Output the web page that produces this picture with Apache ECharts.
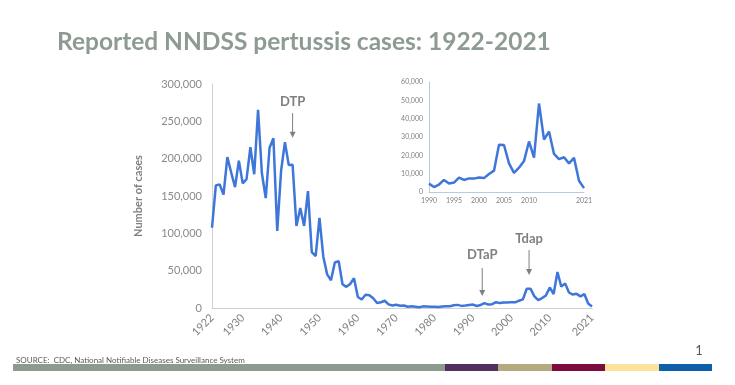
<!DOCTYPE html>
<html>
<head>
<meta charset="utf-8">
<script src="https://cdn.jsdelivr.net/npm/echarts@6/dist/echarts.min.js"></script>
<style>html,body{margin:0;padding:0;background:#fff;}#c{width:735px;height:385px;}</style>
</head>
<body>
<div id="c"></div>
<script>
const years = [];
for (let y = 1922; y <= 2021; y++) years.push(y);
const cases = [107473,164191,165418,152003,202210,181411,161799,197371,166914,172559,
215343,179135,265269,180518,147237,214652,227319,103188,183866,222202,
191383,191890,109873,133792,109860,156517,74715,69479,120718,68687,
45030,37129,60886,62786,31732,28295,32148,40005,14809,11468,
17749,17135,13005,6799,7717,9718,4810,3285,4249,3036,
3287,1759,2402,1738,1010,2177,2063,1623,1730,1248,
1895,2463,2276,3589,4195,2823,3450,4157,4570,2719,
4083,6586,4617,5137,7796,6564,7405,7298,7867,7580,
9771,11647,25827,25616,15632,10454,13278,16858,27550,18719,
48277,28639,32971,20762,17972,18975,15609,18617,6124,2116];
const mainTicks = [1922,1930,1940,1950,1960,1970,1980,1990,2000,2010,2021];
const insetTicks = [1990,1995,2000,2005,2010,2021];
const insetStart = 1990;
const annotations = [
  {label:'DTP', year:1943, textV:276000, topV:261000, tipV:228000},
  {label:'DTaP', year:1992.4, textV:71000, topV:53600, tipV:16000},
  {label:'Tdap', year:2004.6, textV:92400, topV:77700, tipV:44200}
];
const mainData = years.map((y,i)=>[y,cases[i]]);
const insetData = mainData.filter(d=>d[0]>=insetStart);

const gray = '#808080';
const lineColor = '#3f76d9';
const chart = echarts.init(document.getElementById('c'));
const fmtNum = v => v.toLocaleString('en-US');
chart.setOption({
  animation:false,
  title:{text:'Reported NNDSS pertussis cases: 1922-2021', left:52, top:25,
    textStyle:{fontFamily:'Lato', fontWeight:'bold', fontSize:24.5, color:'#8d9b92'}},
  grid:[
    {left:212, right:143, top:84, bottom:77},
    {left:429, right:151, top:82, bottom:193}
  ],
  xAxis:[
    {gridIndex:0, type:'value', min:1922, max:2021,
      axisLine:{lineStyle:{color:'#d0d0d0'}}, axisTick:{show:false}, splitLine:{show:false},
      axisLabel:{customValues:mainTicks, formatter:v=>String(v), rotate:45, color:gray, fontSize:11, fontFamily:'Lato', margin:8}},
    {gridIndex:1, type:'value', min:1990, max:2021,
      axisLine:{lineStyle:{color:'#b9c9e6'}}, axisTick:{show:false}, splitLine:{show:false},
      axisLabel:{customValues:insetTicks, formatter:v=>String(v), color:gray, fontSize:7, fontFamily:'Lato', margin:5}}
  ],
  yAxis:[
    {gridIndex:0, type:'value', min:0, max:300000, interval:50000,
      name:'Number of cases', nameLocation:'middle', nameGap:68, nameRotate:90,
      nameTextStyle:{color:gray, fontWeight:'bold', fontSize:11, fontFamily:'Lato'},
      axisLine:{show:true, lineStyle:{color:'#d0d0d0'}}, axisTick:{show:false}, splitLine:{show:false},
      axisLabel:{formatter:fmtNum, color:'#8a8a8a', fontSize:11, fontFamily:'Lato', margin:10}},
    {gridIndex:1, type:'value', min:0, max:60000, interval:10000,
      axisLine:{show:true, lineStyle:{color:'#b9c9e6'}}, axisTick:{show:false}, splitLine:{show:false},
      axisLabel:{formatter:fmtNum, color:gray, fontSize:7, fontFamily:'Lato', margin:6}}
  ],
  series:[
    {type:'line', xAxisIndex:0, yAxisIndex:0, data:mainData, showSymbol:false, symbol:'none',
      lineStyle:{color:lineColor, width:2.5}},
    {type:'line', xAxisIndex:1, yAxisIndex:1, data:insetData, showSymbol:false, symbol:'none',
      lineStyle:{color:lineColor, width:2.5}}
  ]
});

const g = [];
annotations.forEach(a=>{
  const pt = chart.convertToPixel({gridIndex:0},[a.year,a.textV]);
  const top = chart.convertToPixel({gridIndex:0},[a.year,a.topV]);
  const tip = chart.convertToPixel({gridIndex:0},[a.year,a.tipV]);
  g.push({type:'text', x:pt[0], y:pt[1], style:{text:a.label, fill:gray, font:'bold 13px Lato', align:'center', verticalAlign:'middle'}});
  g.push({type:'line', shape:{x1:top[0], y1:top[1], x2:tip[0], y2:tip[1]-4}, style:{stroke:gray, lineWidth:1}});
  g.push({type:'polygon', shape:{points:[[tip[0]-3,tip[1]-6],[tip[0]+3,tip[1]-6],[tip[0],tip[1]]]}, style:{fill:gray}});
});
g.push({type:'text', x:16, y:360, style:{text:'SOURCE:  CDC, National Notifiable Diseases Surveillance System', fill:'#595959', font:'8px Lato', verticalAlign:'middle'}});
g.push({type:'text', x:699, y:351, style:{text:'1', fill:'#595959', font:'13px Lato', align:'center', verticalAlign:'middle'}});
const segs = [[13,445,'#8c9a8f'],[445,498,'#51305f'],[498,552,'#b5aa7f'],[552,605,'#7e0b3d'],[605,659,'#fde29b'],[659,712,'#0d5faa']];
segs.forEach(s=>g.push({type:'rect', shape:{x:s[0], y:364, width:s[1]-s[0], height:7}, style:{fill:s[2]}}));
chart.setOption({graphic:g});
</script>
</body>
</html>
